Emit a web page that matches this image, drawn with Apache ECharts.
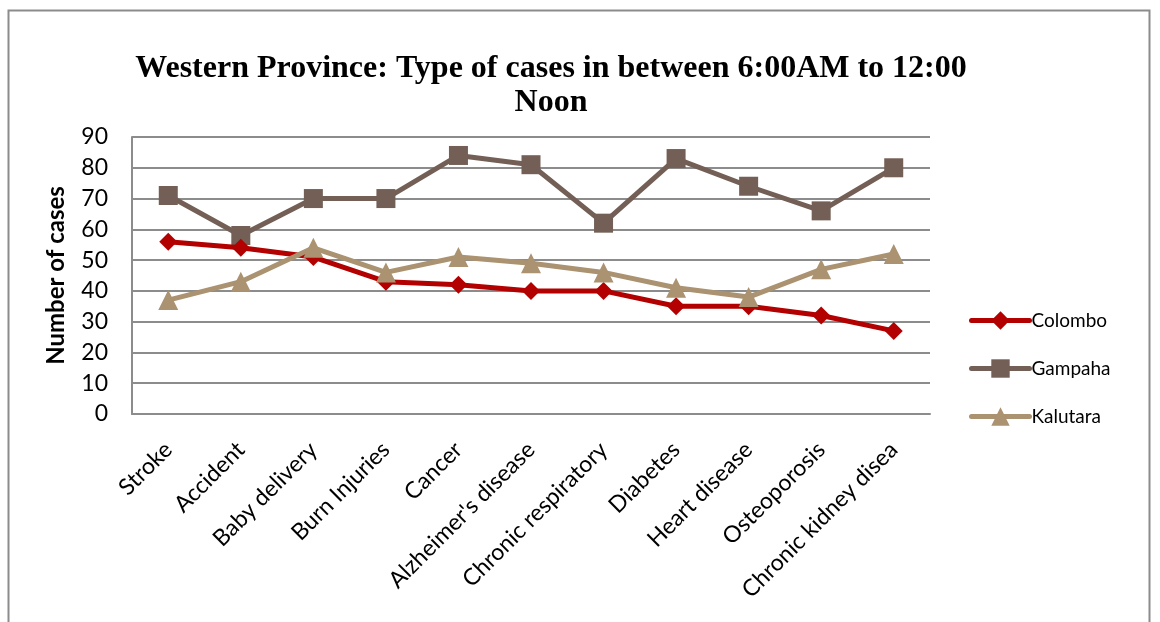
<!DOCTYPE html>
<html>
<head>
<meta charset="utf-8">
<script src="https://cdn.jsdelivr.net/npm/echarts@6/dist/echarts.min.js"></script>
<style>
  html, body { margin: 0; padding: 0; background: #fff; }
</style>
</head>
<body>
<div id="lineChart" style="width: 1160px; height: 622px;"></div>
<script>
    var categories = ['Stroke', 'Accident', 'Baby delivery', 'Burn Injuries', 'Cancer', "Alzheimer's disease",
        'Chronic respiratory', 'Diabetes', 'Heart disease', 'Osteoporosis', 'Chronic kidney disea'];
    var colombo = [56, 54, 51, 43, 42, 40, 40, 35, 35, 32, 27];
    var gampaha = [71, 58, 70, 70, 84, 81, 62, 83, 74, 66, 80];
    var kalutara = [37, 43, 54, 46, 51, 49, 46, 41, 38, 47, 52];

    var chartDom = document.getElementById('lineChart');
    var myChart = echarts.init(chartDom);
    var option;

    var labelFont = 'Lato, "Open Sans", sans-serif';

    option = {
        animation: false,
        title: {
            text: 'Western Province: Type of cases in between 6:00AM to 12:00\nNoon',
            left: 546,
            top: 47,
            textAlign: 'center',
            textStyle: {
                fontFamily: '"Liberation Serif", serif',
                fontWeight: 'bold',
                fontSize: 32,
                lineHeight: 34,
                color: '#000'
            }
        },
        graphic: [{
            type: 'rect',
            shape: {x: 8.5, y: 10.5, width: 1141, height: 700},
            style: {fill: 'none', stroke: '#8c8c8c', lineWidth: 2},
            silent: true
        }],
        legend: {
            orient: 'vertical',
            left: 964,
            top: 306,
            itemWidth: 58,
            itemHeight: 23,
            itemGap: 29,
            lineStyle: {width: 5},
            textStyle: {fontFamily: labelFont, fontSize: 19, color: '#000', padding: [0, 0, 0, -3]},
            data: ['Colombo', 'Gampaha', 'Kalutara']
        },
        grid: {left: 132, right: 230, top: 137, bottom: 208},
        xAxis: {
            type: 'category',
            data: categories,
            boundaryGap: true,
            axisLine: {lineStyle: {color: '#8c8c8c', width: 2}},
            axisTick: {show: false},
            axisLabel: {
                rotate: 45,
                interval: 0,
                margin: 32,
                fontFamily: labelFont,
                fontSize: 23,
                color: '#000'
            }
        },
        yAxis: {
            type: 'value',
            min: 0,
            max: 90,
            interval: 10,
            name: 'Number of cases',
            nameLocation: 'middle',
            nameGap: 64,
            nameTextStyle: {fontFamily: labelFont, fontSize: 24, fontWeight: 'bold', color: '#000'},
            axisLine: {show: true, lineStyle: {color: '#8c8c8c', width: 2}},
            axisTick: {show: false},
            axisLabel: {fontFamily: labelFont, fontSize: 23, color: '#000', margin: 24},
            splitLine: {lineStyle: {color: '#8c8c8c', width: 2}}
        },
        series: [
            {
                name: 'Colombo',
                type: 'line',
                data: colombo,
                symbol: 'diamond',
                symbolSize: 18,
                color: '#b30000',
                lineStyle: {width: 5, cap: 'round'},
                itemStyle: {color: '#b30000'},
                z: 3
            },
            {
                name: 'Gampaha',
                type: 'line',
                data: gampaha,
                symbol: 'rect',
                symbolSize: 19,
                color: '#735f55',
                lineStyle: {width: 5, cap: 'round'},
                itemStyle: {color: '#735f55'},
                z: 2
            },
            {
                name: 'Kalutara',
                type: 'line',
                data: kalutara,
                symbol: 'triangle',
                symbolSize: 20,
                color: '#ab9270',
                lineStyle: {width: 5, cap: 'round'},
                itemStyle: {color: '#ab9270'},
                z: 4
            }
        ]
    };

    option && myChart.setOption(option);
</script>
</body>
</html>
